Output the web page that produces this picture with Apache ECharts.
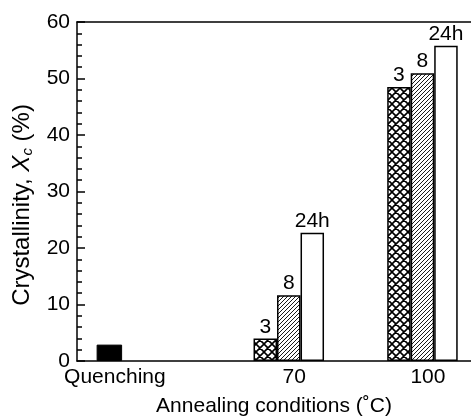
<!DOCTYPE html>
<html>
<head>
<meta charset="utf-8">
<script src="https://cdn.jsdelivr.net/npm/echarts@6/dist/echarts.min.js"></script>
<style>
html, body { margin: 0; padding: 0; background: #fff; }
#chart { width: 471px; height: 418px; }
</style>
</head>
<body>
<div id="chart"></div>
<script>
// annealing conditions and where each group sits on the x scale
const conditions = ['Quenching', '70', '100']
const conditionPos = [0.92, 6.02, 9.82]
const quenchValue = [2.9]
const hourLabels = ['3', '8', '24h']
// crystallinity Xc (%) at 70 and 100 °C
const annealed3h = [4.0, 48.5]
const annealed8h = [11.65, 50.95]
const annealed24h = [22.7, 55.8]
const yTicks = [0, 10, 20, 30, 40, 50, 60]

const font = '"Liberation Sans", Arial, Helvetica, sans-serif'

// small canvas tiles used as hatch fills
function hatch (size, lineWidth, slashes, backslashes) {
  const c = document.createElement('canvas')
  c.width = size
  c.height = size
  const ctx = c.getContext('2d')
  ctx.fillStyle = '#fff'
  ctx.fillRect(0, 0, size, size)
  ctx.strokeStyle = '#000'
  ctx.lineWidth = lineWidth
  ctx.beginPath()
  for (let k = -size; k <= size; k += size) {
    if (slashes) {
      ctx.moveTo(k, size)
      ctx.lineTo(k + size, 0)
    }
    if (backslashes) {
      ctx.moveTo(k, 0)
      ctx.lineTo(k + size, size)
    }
  }
  ctx.stroke()
  return { image: c, repeat: 'repeat' }
}

const fills = [hatch(8, 1.6, true, true), hatch(4, 0.9, true, false), '#fff']
const hourData = [annealed3h, annealed8h, annealed24h]

const annealSeries = hourLabels.map(function (name, s) {
  return {
    name: name,
    type: 'bar',
    xAxisIndex: 0,
    barWidth: 23.5,
    barGap: '0%',
    data: hourData[s].map(function (v, i) { return [conditionPos[i + 1], v] }),
    itemStyle: { color: fills[s], borderColor: '#000', borderWidth: 1.5 },
    label: {
      show: true,
      position: 'top',
      distance: 1,
      formatter: '{a}',
      color: '#000',
      fontSize: 21,
      fontFamily: font
    },
    emphasis: { disabled: true }
  }
})

const xMax = 11.2
const axisLine = { show: true, lineStyle: { color: '#000', width: 1.5 } }

const option = {
  animation: false,
  textStyle: { fontFamily: font },
  grid: { left: 77, right: 0, top: 22, bottom: 57, outerBoundsMode: 'none' },
  xAxis: [
    {
      type: 'value',
      min: 0,
      max: xMax,
      position: 'bottom',
      axisLine: axisLine,
      axisTick: { show: false },
      splitLine: { show: false },
      axisLabel: {
        customValues: conditionPos,
        margin: 6,
        padding: [0, 0, 0, 11],
        color: '#000',
        fontSize: 21,
        fontFamily: font,
        formatter: function (v) {
          let best = 0
          conditionPos.forEach(function (p, i) {
            if (Math.abs(p - v) < Math.abs(conditionPos[best] - v)) best = i
          })
          return conditions[best]
        }
      },
      name: 'Annealing conditions (˚C)',
      nameLocation: 'middle',
      nameGap: 35,
      nameTextStyle: { color: '#000', fontSize: 21, fontFamily: font }
    },
    {
      type: 'value',
      min: 0,
      max: xMax,
      position: 'top',
      axisLine: axisLine,
      axisTick: { show: false },
      axisLabel: { show: false },
      splitLine: { show: false }
    }
  ],
  yAxis: {
    type: 'value',
    min: yTicks[0],
    max: yTicks[yTicks.length - 1],
    interval: 10,
    axisLine: axisLine,
    axisTick: { show: true, inside: true, length: 8, lineStyle: { color: '#000', width: 1.5 } },
    minorTick: { show: true, splitNumber: 5, length: 5, lineStyle: { color: '#000', width: 1.5 } },
    splitLine: { show: false },
    axisLabel: { margin: 7, color: '#000', fontSize: 21, fontFamily: font },
    name: '{n|Crystallinity, }{x|X}{s|c}{n| (%)}',
    nameLocation: 'middle',
    nameGap: 42,
    nameTextStyle: {
      padding: [0, 27, 0, 0],
      rich: {
        n: { fontSize: 24, color: '#000', fontFamily: font },
        x: { fontSize: 24, color: '#000', fontStyle: 'italic', fontFamily: font },
        s: { fontSize: 15, color: '#000', fontStyle: 'italic', fontFamily: font, padding: [10, 0, 0, 0] }
      }
    }
  },
  series: [
    {
      name: 'Quenching',
      type: 'bar',
      xAxisIndex: 1,
      barWidth: 25.5,
      data: quenchValue.map(function (v, i) { return [conditionPos[i], v] }),
      itemStyle: { color: '#000', borderColor: '#000', borderWidth: 1 },
      emphasis: { disabled: true }
    }
  ].concat(annealSeries)
}

const myChart = echarts.init(document.getElementById('chart'))
myChart.setOption(option)
</script>
</body>
</html>
